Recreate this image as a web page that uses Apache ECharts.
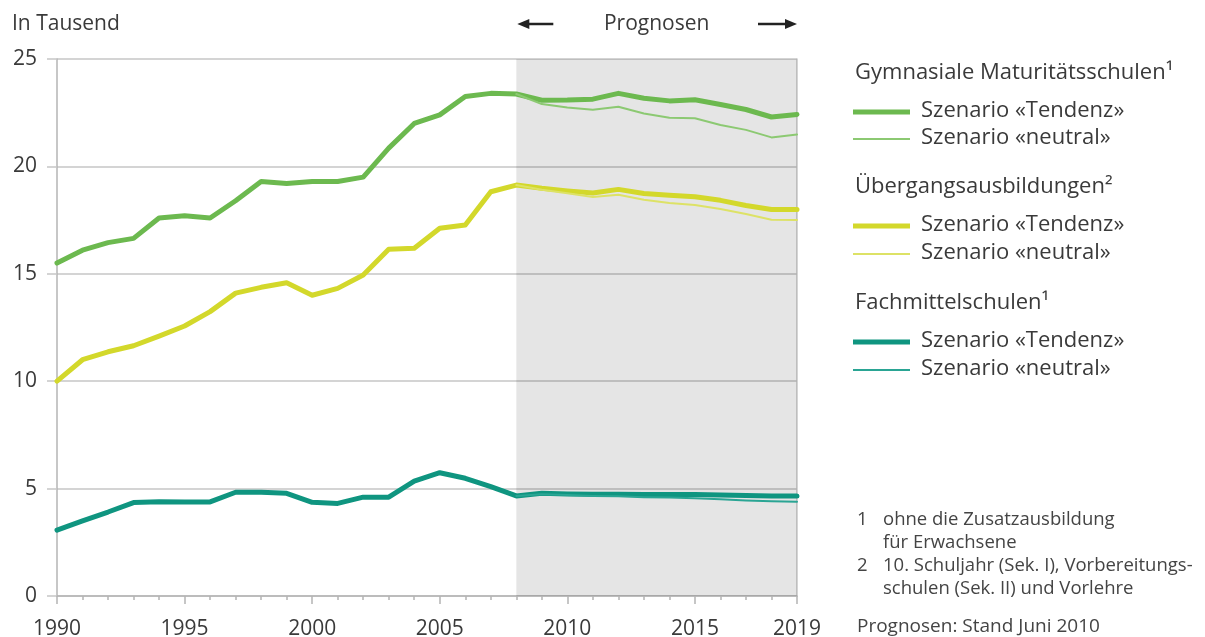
<!DOCTYPE html>
<html>
<head>
<meta charset="utf-8">
<script src="https://cdn.jsdelivr.net/npm/echarts@6/dist/echarts.min.js"></script>
<style>
html,body{margin:0;padding:0;background:#fff;}
#chart{width:1205px;height:637px;}
</style>
</head>
<body>
<div id="chart"></div>
<script>
// ---------- data ----------
var years = [1990,1991,1992,1993,1994,1995,1996,1997,1998,1999,2000,2001,2002,2003,2004,2005,2006,2007,2008,2009,2010,2011,2012,2013,2014,2015,2016,2017,2018,2019];
var projYears = [2008,2009,2010,2011,2012,2013,2014,2015,2016,2017,2018,2019];
var xLabels = [1990,1995,2000,2005,2010,2015,2019];

var gymTendenz = [15.5,16.1,16.45,16.65,17.6,17.7,17.6,18.4,19.3,19.2,19.3,19.3,19.5,20.85,22.0,22.4,23.25,23.4,23.37,23.08,23.09,23.13,23.4,23.17,23.05,23.1,22.88,22.65,22.3,22.42];
var gymNeutral = [23.37,22.9,22.74,22.64,22.78,22.46,22.27,22.24,21.93,21.7,21.35,21.48];

var uebTendenz = [10.0,11.0,11.37,11.65,12.1,12.57,13.24,14.1,14.37,14.58,14.0,14.32,14.94,16.14,16.19,17.12,17.27,18.82,19.13,18.98,18.86,18.76,18.93,18.74,18.66,18.59,18.42,18.18,17.99,17.99];
var uebNeutral = [19.13,18.91,18.75,18.58,18.68,18.45,18.3,18.2,18.02,17.78,17.52,17.5];

var fmsTendenz = [3.07,3.5,3.91,4.35,4.39,4.38,4.38,4.83,4.83,4.78,4.36,4.31,4.6,4.6,5.35,5.74,5.48,5.09,4.66,4.78,4.75,4.74,4.74,4.73,4.73,4.72,4.7,4.68,4.66,4.65];
var fmsNeutral = [4.66,4.74,4.7,4.66,4.64,4.6,4.58,4.55,4.5,4.45,4.41,4.39];

var yTicks = [0,5,10,15,20,25];
var forecastRange = [2008,2019];

var unitLabel = 'In Tausend';
var forecastLabel = 'Prognosen';
var groupHeaders = ['Gymnasiale Maturitätsschulen¹','Übergangsausbildungen²','Fachmittelschulen¹'];
var scenarioNames = ['Szenario «Tendenz»','Szenario «neutral»'];
var footnotes = [
  ['1','ohne die Zusatzausbildung'],
  ['','für Erwachsene'],
  ['2','10. Schuljahr (Sek. I), Vorbereitungs-'],
  ['','schulen (Sek. II) und Vorlehre']
];
var sourceNote = 'Prognosen: Stand Juni 2010';

// ---------- styling ----------
var FONT = '"Open Sans", "Noto Sans", sans-serif';
var TXT = '#3a3a3a';
var colors = {
  gymT:'#6cb94f', gymN:'#8cc972',
  uebT:'#d3d82b', uebN:'#dde266',
  fmsT:'#0f9580', fmsN:'#2aa594'
};
var AXIS = '#b4b4b4';
var GRID = '#c6c6c6';

function pairs(xs, vs){ return xs.map(function(x,i){ return [x, vs[i]]; }); }

var chart = echarts.init(document.getElementById('chart'), null, {renderer:'canvas'});

function lineSeries(name, xs, vs, color, width, z, extra){
  var s = {
    name:name, type:'line', data:pairs(xs, vs), symbol:'none', silent:true,
    lineStyle:{color:color, width:width, join:'round', cap:'round'},
    z:z, animation:false
  };
  if (extra) for (var k in extra) s[k] = extra[k];
  return s;
}

var series = [
  lineSeries('gymT', years, gymTendenz, colors.gymT, 5, 3, {
    markArea:{silent:true, z:1, itemStyle:{color:'rgba(0,0,0,0.1)'},
      data:[[{xAxis:forecastRange[0]},{xAxis:forecastRange[1]}]]}
  }),
  lineSeries('uebT', years, uebTendenz, colors.uebT, 5, 3),
  lineSeries('fmsT', years, fmsTendenz, colors.fmsT, 5, 3),
  lineSeries('gymN', projYears, gymNeutral, colors.gymN, 2, 4),
  lineSeries('uebN', projYears, uebNeutral, colors.uebN, 2, 4),
  lineSeries('fmsN', projYears, fmsNeutral, colors.fmsN, 2, 4)
];

var option = {
  animation:false,
  backgroundColor:'#fff',
  textStyle:{fontFamily:FONT},
  grid:{left:57, right:408, top:59, bottom:41, containLabel:false, outerBoundsMode:'none'},
  xAxis:[{
    type:'value', min:years[0], max:years[years.length-1], interval:1,
    axisLine:{show:true, lineStyle:{color:AXIS, width:1.5}},
    axisTick:{show:true, length:4, lineStyle:{color:AXIS, width:1.5}},
    axisLabel:{show:true, margin:23, fontSize:21, color:TXT, fontFamily:FONT,
      formatter:function(v){ return xLabels.indexOf(v) >= 0 ? String(v) : ''; }},
    splitLine:{show:false}
  },{
    type:'value', min:years[0], max:years[years.length-1], interval:5, position:'bottom',
    axisLine:{show:false},
    axisTick:{show:true, length:8, lineStyle:{color:AXIS, width:1.5}},
    axisLabel:{show:false},
    splitLine:{show:false}
  }],
  yAxis:[{
    type:'value', min:yTicks[0], max:yTicks[yTicks.length-1], interval:5,
    axisLine:{show:true, lineStyle:{color:AXIS, width:1.5}},
    axisTick:{show:true, length:10, lineStyle:{color:GRID, width:1.5}},
    axisLabel:{margin:20, fontSize:21, color:TXT, fontFamily:FONT},
    splitLine:{show:true, lineStyle:{color:GRID, width:1.5}}
  },{
    type:'value', position:'right', min:yTicks[0], max:yTicks[yTicks.length-1],
    axisLine:{show:true, lineStyle:{color:GRID, width:1.5}},
    axisTick:{show:false}, axisLabel:{show:false}, splitLine:{show:false}
  }],
  series:series
};
chart.setOption(option);

// ---------- annotations (positioned from axis scale) ----------
var px0 = chart.convertToPixel({xAxisIndex:0}, forecastRange[0]);
var px1 = chart.convertToPixel({xAxisIndex:0}, forecastRange[1]);
var topY = 24;
function arrow(xTail, xHead, y){
  var dir = xHead > xTail ? 1 : -1;
  return [
    {type:'line', shape:{x1:xTail, y1:y, x2:xHead - dir*8, y2:y}, style:{stroke:'#222', lineWidth:2.5}, silent:true},
    {type:'polygon', shape:{points:[[xHead,y],[xHead-dir*12,y-5],[xHead-dir*12,y+5]]}, style:{fill:'#222'}, silent:true}
  ];
}
var g = [];
g.push({type:'text', x:12, y:topY, style:{text:unitLabel, font:'21px '+FONT, fill:TXT, verticalAlign:'middle'}, silent:true});
g.push({type:'text', x:(px0+px1)/2, y:topY, style:{text:forecastLabel, font:'21px '+FONT, fill:TXT, align:'center', verticalAlign:'middle'}, silent:true});
g = g.concat(arrow(px0+37, px0+1, topY)).concat(arrow(px1-39, px1, topY));

// legend
var legendX = 855, lineX1 = 853, lineX2 = 910, textX = 921;
var headerYs = [73, 187, 303];
var itemYs = [[112,139],[226,254],[342,370]];
var legendColors = [[colors.gymT, colors.gymN],[colors.uebT, colors.uebN],[colors.fmsT, colors.fmsN]];
for (var i=0;i<3;i++){
  g.push({type:'text', x:legendX, y:headerYs[i], style:{text:groupHeaders[i], font:'22px '+FONT, fill:TXT, verticalAlign:'middle'}, silent:true});
  for (var j=0;j<2;j++){
    var yy = itemYs[i][j];
    g.push({type:'line', shape:{x1:lineX1, y1:yy, x2:lineX2, y2:yy}, style:{stroke:legendColors[i][j], lineWidth: j===0 ? 5 : 2}, silent:true});
    g.push({type:'text', x:textX, y:yy-1, style:{text:scenarioNames[j], font:'22px '+FONT, fill:TXT, verticalAlign:'middle'}, silent:true});
  }
}
// footnotes
var fnYs = [520, 543, 566, 589];
for (var k=0;k<footnotes.length;k++){
  if (footnotes[k][0]) g.push({type:'text', x:857, y:fnYs[k], style:{text:footnotes[k][0], font:'18.5px '+FONT, fill:'#444', verticalAlign:'middle'}, silent:true});
  g.push({type:'text', x:883, y:fnYs[k], style:{text:footnotes[k][1], font:'18.5px '+FONT, fill:'#444', verticalAlign:'middle'}, silent:true});
}
g.push({type:'text', x:857, y:627, style:{text:sourceNote, font:'19px '+FONT, fill:'#444', verticalAlign:'middle'}, silent:true});

chart.setOption({graphic:{elements:g}});
</script>
</body>
</html>
